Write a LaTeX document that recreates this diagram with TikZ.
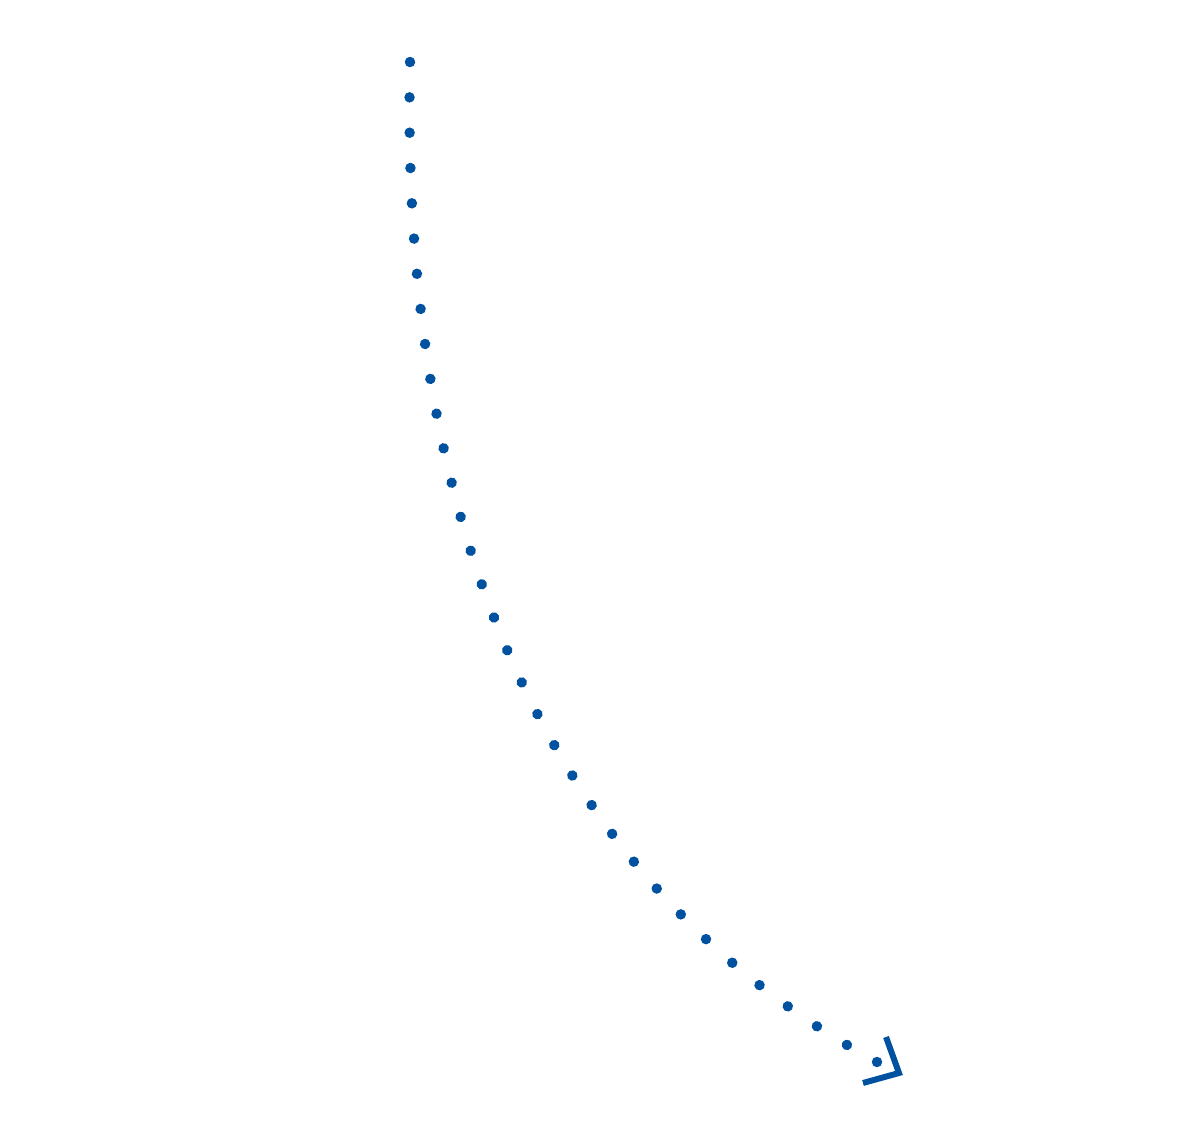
\documentclass[tikz,border=0pt]{standalone}
\usetikzlibrary{decorations.markings}
\definecolor{pathblue}{HTML}{0052A0}

\begin{document}
\begin{tikzpicture}[x=0.02cm,y=-0.02cm]
  \useasboundingbox (0,0) rectangle (1200,1138);
  \coordinate (start) at (410,62);
  \coordinate (stop) at (877,1062);
  % dotted curve
  \path[decoration={markings,
      mark=between positions 0 and 0.99 step 0.030303 with {\fill[pathblue] (0,0) circle (0.105cm);}},
    decorate] (start) .. controls (399,560) and (568,895) .. (stop);
  \fill[pathblue] (stop) circle (0.105cm);
  % open arrow head
  \draw[pathblue, line width=0.12cm, line join=miter]
    ([shift={(9,-25)}]stop) -- ([shift={(22,11)}]stop) -- ([shift={(-14,21)}]stop);
\end{tikzpicture}
\end{document}
